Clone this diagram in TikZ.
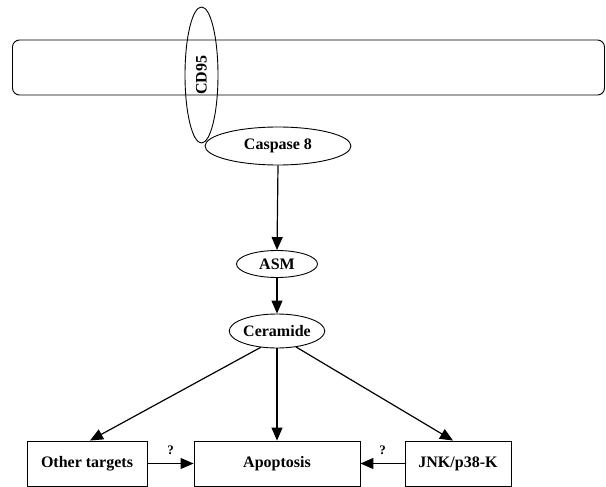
\documentclass[tikz,border=0pt]{standalone}
\usepackage{fontspec}
\setmainfont{Liberation Serif}
\usepackage{tikz}
\usetikzlibrary{arrows.meta, positioning, shapes.geometric, calc}
\usepackage{xcolor}

\tikzset{
  oval/.style={ellipse, draw, line width=0.9pt, inner sep=0pt,
        font=\fontsize{16}{18}\selectfont\bfseries},
  target/.style={rectangle, draw, line width=0.9pt, inner sep=0pt,
        minimum height=45pt, font=\fontsize{16}{18}\selectfont\bfseries},
  link/.style={line width=1.2pt, -{Triangle[length=13pt, width=11pt]}},
  query/.style={font=\fontsize{13}{15}\selectfont\bfseries, above=5pt}
}

\begin{document}
\begin{tikzpicture}[x=1pt, y=-1pt]
  \useasboundingbox (0,0) rectangle (606,487);
  \node[draw, rounded corners=7pt, line width=0.9pt, minimum width=592pt,
        minimum height=55pt] (membrane) at (308.5,67.5) {};
  \node[oval, rotate=90, minimum width=136pt, minimum height=33pt] (cd95)
        at (201.5,75) {CD95};
  \node[oval, minimum width=146pt, minimum height=38pt] (casp8) at (278,146) {Caspase 8};
  \node[oval, minimum width=81pt, minimum height=27pt] (asm) at (277,264) {ASM};
  \node[oval, minimum width=95pt, minimum height=34pt] (ceramide) at (277,331) {Ceramide};
  \node[target, minimum width=120pt] (other) at (87,463.5) {Other targets};
  \node[target, minimum width=166pt] (apoptosis) at (277,463.5) {Apoptosis};
  \node[target, minimum width=106pt] (jnk) at (458,463.5) {JNK/p38-K};

  \draw[link] (casp8.south) -- (asm.north);
  \draw[link] (asm.south) -- (ceramide.north);
  \draw[link] (ceramide.-135) -- ($(other.north)+(3,0)$);
  \draw[link] (ceramide.south) -- (apoptosis.north);
  \draw[link] (ceramide.-40) -- ($(jnk.north)+(-5,0)$);
  \draw[link] (other.east) -- node[query] (q1) {?} (apoptosis.west);
  \draw[link] (jnk.west) -- node[query] (q2) {?} (apoptosis.east);
\end{tikzpicture}
\end{document}
